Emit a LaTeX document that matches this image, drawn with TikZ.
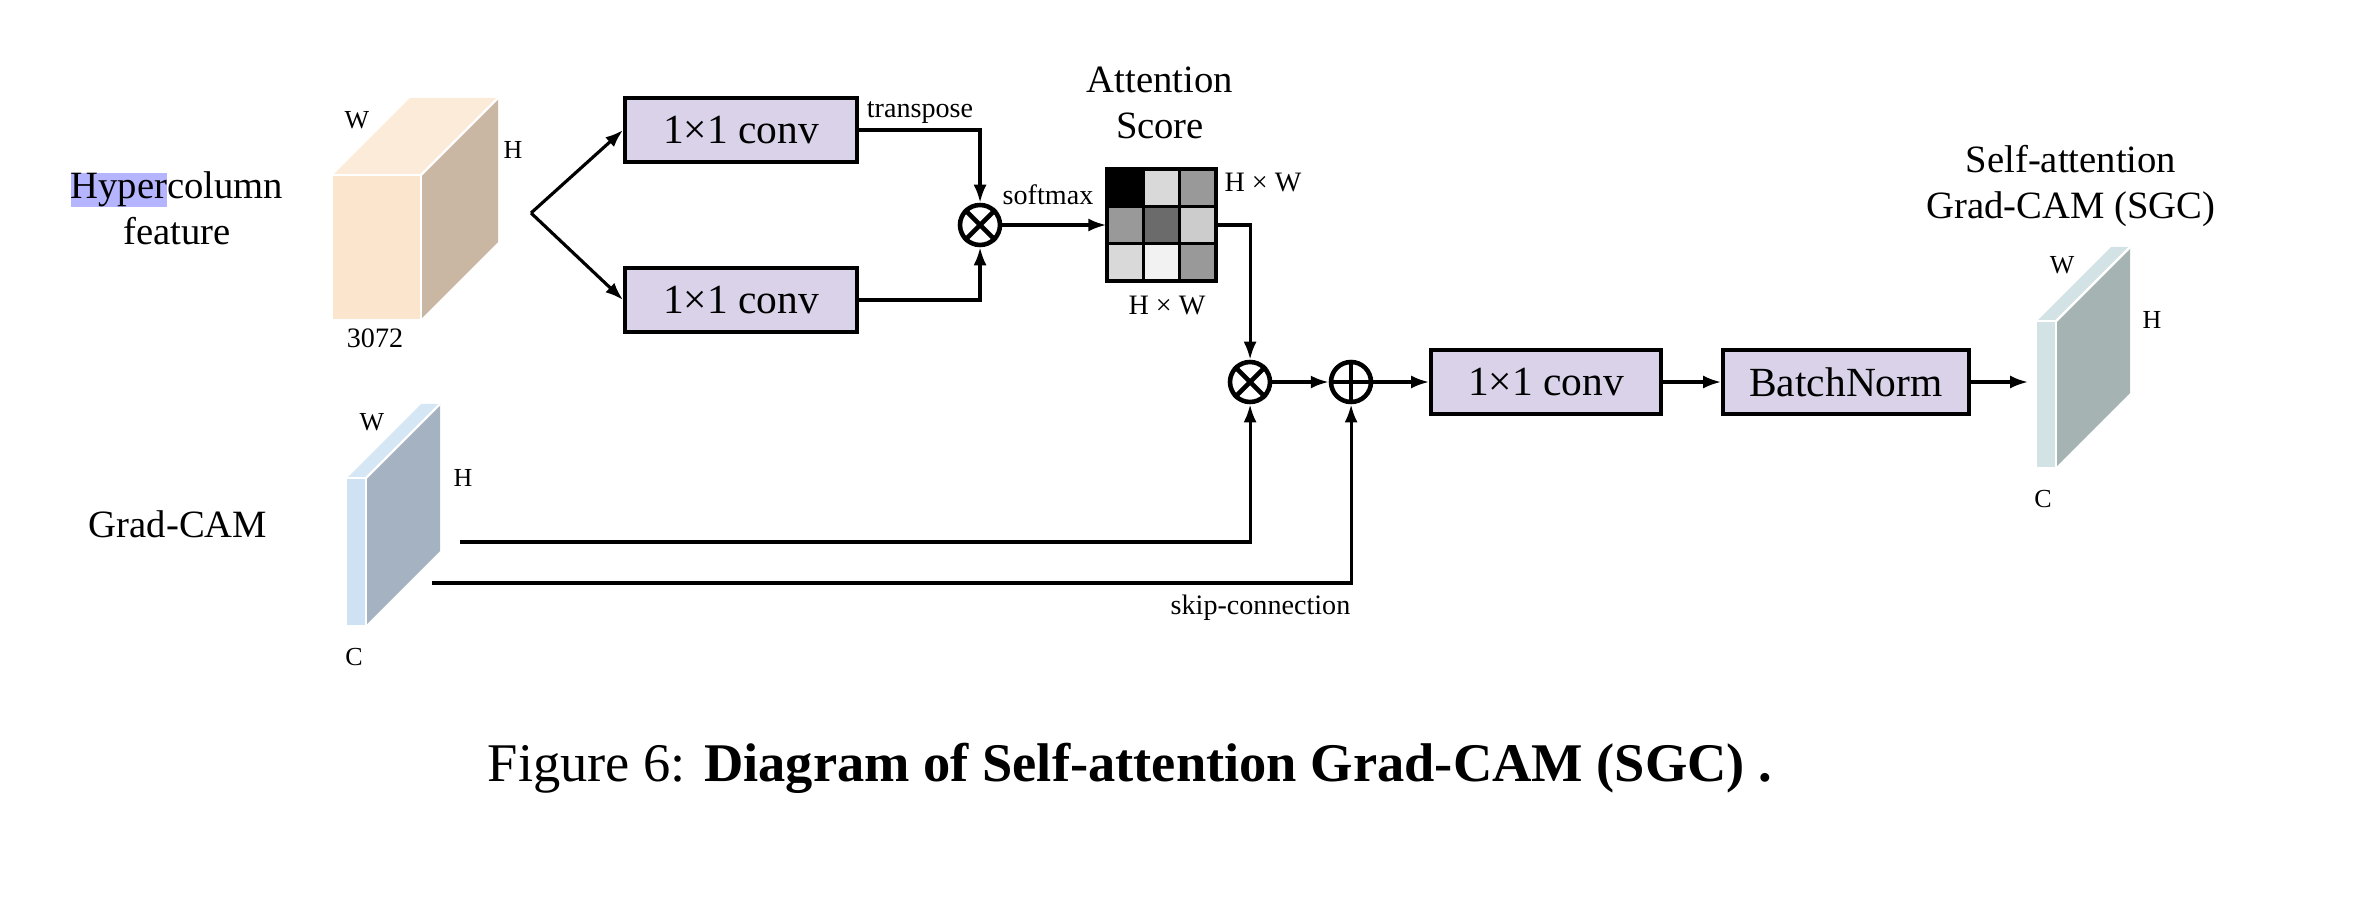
\documentclass[tikz,border=0pt]{standalone}
\usepackage{fontspec}
\setmainfont{Liberation Serif}
\usetikzlibrary{arrows.meta,shapes,positioning}

\definecolor{convfill}{HTML}{D9D2E9}
\definecolor{hlblue}{HTML}{B4B4FF}
\definecolor{hcfront}{HTML}{FCE5CD}
\definecolor{hctop}{HTML}{FDEBD9}
\definecolor{hcside}{HTML}{C9B7A4}
\definecolor{gcfront}{HTML}{CFE2F3}
\definecolor{gctop}{HTML}{D5E6F5}
\definecolor{gcside}{HTML}{A4B2C2}
\definecolor{sgcfront}{HTML}{D3E2E5}
\definecolor{sgcside}{HTML}{A6B3B3}

\newcommand{\labelsize}{\fontsize{11}{13}\selectfont}
\newcommand{\boxsize}{\fontsize{11.8}{14}\selectfont}
\newcommand{\notesize}{\fontsize{8}{10}\selectfont}
\newcommand{\dimsize}{\fontsize{7.4}{9}\selectfont}
\newcommand{\capsize}{\fontsize{15.5}{18}\selectfont}

\begin{document}
\begin{tikzpicture}[scale=0.1, >={Latex[length=1.8mm,width=1.3mm]}]
                    \tikzstyle{every node}+=[inner sep=0pt]
                    \tikzstyle{conv}=[draw, fill=convfill, line width=1.1pt, minimum height=0.64cm, font=\boxsize]
                    \tikzstyle{op}=[draw, circle, line width=1.3pt, minimum size=0.40cm]
                    \tikzstyle{wire}=[line width=0.9pt]
                    \tikzstyle{note}=[font=\notesize]
                    \tikzstyle{dim}=[font=\dimsize]
                    \tikzstyle{edge}=[white, line width=0.7pt]
                    \tikzstyle{grid}=[black, line width=1pt]
                    \useasboundingbox (0,0) rectangle (237.2,-91.1);
                    % hypercolumn block
                    \node [align=center, font=\labelsize] (hyper) at (17.7,-20.8) {{\setlength{\fboxsep}{0pt}\colorbox{hlblue}{Hyper}}column\\feature};
                    \fill [hcfront] (33.3,-17.5) rectangle (42.1,-31.9);
                    \fill [hctop] (33.3,-17.5) -- (41.0,-9.8) -- (49.8,-9.8) -- (42.1,-17.5) -- cycle;
                    \fill [hcside] (42.1,-17.5) -- (49.8,-9.8) -- (49.8,-24.2) -- (42.1,-31.9) -- cycle;
                    \draw [edge] (33.3,-17.5) -- (42.1,-17.5) -- (42.1,-31.9);
                    \draw [edge] (42.1,-17.5) -- (49.8,-9.8);
                    \node [dim] (hcw) at (35.7,-12.0) {W};
                    \node [dim] (hch) at (51.3,-15.0) {H};
                    \node [note] (hcc) at (37.5,-33.8) {3072};
                    % grad-cam block
                    \node [font=\labelsize] (gradcam) at (17.8,-52.4) {Grad-CAM};
                    \fill [gcfront] (34.7,-47.8) rectangle (36.6,-62.5);
                    \fill [gctop] (34.7,-47.8) -- (42.1,-40.4) -- (44.0,-40.4) -- (36.6,-47.8) -- cycle;
                    \fill [gcside] (36.6,-47.8) -- (44.0,-40.4) -- (44.0,-55.1) -- (36.6,-62.5) -- cycle;
                    \draw [edge] (34.7,-47.8) -- (36.6,-47.8) -- (36.6,-62.5);
                    \draw [edge] (36.6,-47.8) -- (44.0,-40.4);
                    \node [dim] (gcw) at (37.2,-42.2) {W};
                    \node [dim] (gch) at (46.3,-47.8) {H};
                    \node [dim] (gcc) at (35.4,-65.7) {C};
                    % query / key branch
                    \coordinate (split) at (53.1,-21.3);
                    \node [conv, minimum width=2.32cm] (conv1) at (74.1,-13.0) {1×1 conv};
                    \node [conv, minimum width=2.32cm] (conv2) at (74.1,-30.0) {1×1 conv};
                    \node [op] (mul1) at (98.0,-22.5) {};
                    \draw [line width=1.3pt] (mul1.north west) -- (mul1.south east);
                    \draw [line width=1.3pt] (mul1.north east) -- (mul1.south west);
                    \draw [wire, ->] (split) -- (conv1.west);
                    \draw [wire, ->] (split) -- (conv2.west);
                    \draw [wire, ->] (conv1.east) -| (mul1.north);
                    \draw [wire, ->] (conv2.east) -| (mul1.south);
                    \node [note] (tlabel) at (92.0,-11.3) {transpose};
                    % attention score
                    \node [minimum width=1.09cm, minimum height=1.12cm] (att) at (116.15,-22.5) {};
                    \foreach \g [count=\k from 0] in {100,15,40,40,58,20,15,5,40}{
                        \pgfmathtruncatemacro{\cellrow}{\k/3}
                        \pgfmathtruncatemacro{\cellcol}{mod(\k,3)}
                        \fill [black!\g] (110.7+3.633*\cellcol,-16.9-3.733*\cellrow) rectangle ++(3.633,-3.733);
                    }
                    \draw [grid] (110.7,-16.9) rectangle (121.6,-28.1);
                    \foreach \t in {1,2}{
                        \draw [grid] (110.7+3.633*\t,-16.9) -- (110.7+3.633*\t,-28.1);
                        \draw [grid] (110.7,-16.9-3.733*\t) -- (121.6,-16.9-3.733*\t);
                    }
                    \draw [wire, ->] (mul1.east) -- (att.west);
                    \node [note] (smlabel) at (104.8,-19.5) {softmax};
                    \node [align=center, font=\labelsize] (attlabel) at (116.0,-10.3) {Attention\\Score};
                    \node [note] (hw1) at (126.3,-18.3) {H × W};
                    \node [note] (hw2) at (116.7,-30.6) {H × W};
                    % fusion
                    \node [op] (mul2) at (125.0,-38.2) {};
                    \draw [line width=1.3pt] (mul2.north west) -- (mul2.south east);
                    \draw [line width=1.3pt] (mul2.north east) -- (mul2.south west);
                    \node [op] (add) at (135.1,-38.2) {};
                    \draw [line width=1.3pt] (add.north) -- (add.south);
                    \draw [line width=1.3pt] (add.west) -- (add.east);
                    \node [conv, minimum width=2.30cm] (conv3) at (154.6,-38.2) {1×1 conv};
                    \node [conv, minimum width=2.46cm] (bn) at (184.6,-38.2) {BatchNorm};
                    \draw [wire, ->] (att.east) -| (mul2.north);
                    \draw [wire, ->] (mul2.east) -- (add.west);
                    \draw [wire, ->] (add.east) -- (conv3.west);
                    \draw [wire, ->] (conv3.east) -- (bn.west);
                    \coordinate (gcout1) at (46.0,-54.2);
                    \coordinate (gcout2) at (43.2,-58.3);
                    \draw [wire, ->] (gcout1) -| (mul2.south);
                    \draw [wire, ->] (gcout2) -| (add.south);
                    \node [note] (skiplabel) at (126.05,-60.8) {skip-connection};
                    % output
                    \coordinate (sgcin) at (202.8,-38.2);
                    \draw [wire, ->] (bn.east) -- (sgcin);
                    \fill [sgcfront] (203.7,-32.1) rectangle (205.6,-46.7);
                    \fill [sgcfront] (203.7,-32.1) -- (211.1,-24.7) -- (213.0,-24.7) -- (205.6,-32.1) -- cycle;
                    \fill [sgcside] (205.6,-32.1) -- (213.0,-24.7) -- (213.0,-39.3) -- (205.6,-46.7) -- cycle;
                    \draw [edge] (203.7,-32.1) -- (205.6,-32.1) -- (205.6,-46.7);
                    \draw [edge] (205.6,-32.1) -- (213.0,-24.7);
                    \node [dim] (sgcw) at (206.2,-26.5) {W};
                    \node [dim] (sgch) at (215.2,-32.0) {H};
                    \node [dim] (sgcc) at (204.3,-49.9) {C};
                    \node [align=center, font=\labelsize] (sgclabel) at (207.1,-18.6) {Self-attention\\Grad-CAM (SGC)};
                    % caption
                    \node [anchor=base, font=\capsize] (caption) at (113.0,-78.1) {Figure 6: \textbf{Diagram of Self-attention Grad-CAM (SGC) .}};
                \end{tikzpicture}
\end{document}
